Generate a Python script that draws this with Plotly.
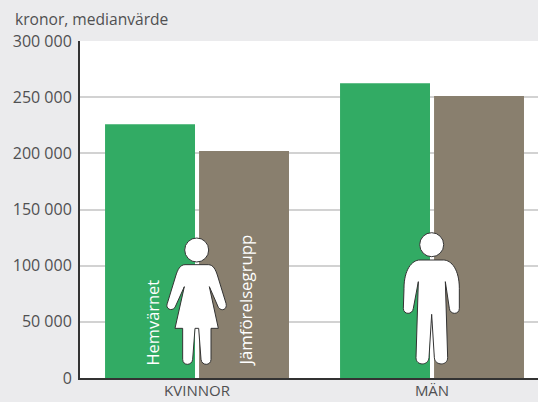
import plotly.graph_objects as go

categories = ["KVINNOR", "MÄN"]
hemvarnet = [226000, 262500]
jamforelsegrupp = [202000, 251000]
tick_values = [0, 50000, 100000, 150000, 200000, 250000, 300000]
tick_labels = ["0", "50 000", "100 000", "150 000", "200 000", "250 000", "300 000"]

W, H = 538, 402
L, R, T, B = 80, 0, 41, 24
PW, PH = W - L - R, H - T - B
TXT = "#505052"
FONT = "Open Sans, Noto Sans, sans-serif"

def px(x): return (x - L) / PW
def py(y): return (H - B - y) / PH

def icon_path(cmds, ox, oy):
    out = []
    for c in cmds:
        op, pts = c[0], c[1:]
        coords = []
        for i in range(0, len(pts), 2):
            coords.append(f"{ox + pts[i] / 3 - L:.2f},{(H - B) - (oy + pts[i + 1] / 3):.2f}")
        out.append(op + " ".join(coords))
    return " ".join(out) + " Z"

woman = [
    ("M", 255, 134), ("L", 325, 134), ("C", 340, 134, 347, 150, 352, 165),
    ("L", 378, 250), ("C", 383, 268, 365, 276, 355, 262), ("L", 328, 200),
    ("L", 355, 325), ("L", 333, 325), ("L", 333, 418), ("C", 333, 438, 305, 438, 303, 418),
    ("L", 296, 325), ("L", 285, 325), ("L", 278, 418), ("C", 276, 438, 248, 438, 248, 418),
    ("L", 248, 325), ("L", 225, 325), ("L", 253, 200), ("L", 225, 262),
    ("C", 215, 276, 195, 266, 202, 250), ("L", 228, 165), ("C", 233, 150, 240, 134, 255, 134),
]
man = [
    ("M", 240, 120), ("L", 310, 120), ("C", 335, 120, 358, 150, 358, 205),
    ("L", 358, 265), ("C", 358, 285, 330, 285, 328, 265), ("L", 316, 185),
    ("L", 323, 413), ("C", 323, 438, 285, 438, 283, 413), ("L", 275, 283),
    ("L", 267, 413), ("C", 265, 438, 228, 438, 228, 413), ("L", 235, 185),
    ("L", 220, 265), ("C", 218, 285, 190, 285, 190, 265), ("L", 192, 205),
    ("C", 192, 150, 215, 120, 240, 120),
]

def pix_shape(**kw):
    return dict(xref="paper", yref="paper", xsizemode="pixel", ysizemode="pixel",
                xanchor=0, yanchor=0, fillcolor="white",
                line=dict(color="#333333", width=1), layer="above", **kw)

def head(cx, cy, r=12):
    return pix_shape(type="circle", x0=cx - r - L, x1=cx + r - L,
                     y0=(H - B) - (cy + r), y1=(H - B) - (cy - r))

shapes = [
    head(196.7, 250), pix_shape(type="path", path=icon_path(woman, 100, 220)),
    head(431.7, 244.7), pix_shape(type="path", path=icon_path(man, 340, 220)),
]

fig = go.Figure()
fig.add_bar(x=categories, y=hemvarnet, name="Hemvärnet", marker=dict(color="#32AB64", line_width=0))
fig.add_bar(x=categories, y=jamforelsegrupp, name="Jämförelsegrupp", marker=dict(color="#897F6E", line_width=0))

fig.update_layout(
    width=W, height=H, autosize=False,
    margin=dict(l=L, r=R, t=T, b=B, pad=0),
    paper_bgcolor="#EBEBED", plot_bgcolor="white",
    barmode="group", bargap=0.2, bargroupgap=0.043, showlegend=False,
    font=dict(family=FONT, color=TXT, size=16),
    shapes=shapes,
    annotations=[
        dict(text="kronor, medianvärde", xref="paper", yref="paper", x=px(13), y=py(19),
             xanchor="left", yanchor="middle", showarrow=False, font=dict(size=15.6, color=TXT)),
        dict(text="Hemvärnet", xref="paper", yref="paper", x=px(152), y=py(322.5), textangle=-90,
             xanchor="center", yanchor="middle", showarrow=False, font=dict(size=16.4, color="white")),
        dict(text="Jämförelsegrupp", xref="paper", yref="paper", x=px(245), y=py(300.5), textangle=-90,
             xanchor="center", yanchor="middle", showarrow=False, font=dict(size=16.8, color="white")),
    ],
)
fig.update_xaxes(type="category", range=[-0.498, 1.451], showgrid=False, ticks="", automargin=False,
                 showline=True, linecolor="#333333", linewidth=2, ticklabelstandoff=-2,
                 tickfont=dict(size=15, color=TXT))
fig.update_yaxes(range=[0, 300000], tickvals=tick_values, ticktext=tick_labels, ticks="", automargin=False,
                 showgrid=True, gridcolor="#D2D2D2", gridwidth=1.5, zeroline=False,
                 showline=True, linecolor="#333333", linewidth=2, ticklabelstandoff=3,
                 tickfont=dict(size=16, color=TXT))

fig.write_html("out.html", config={"displayModeBar": False},
               post_script="document.body.style.margin='0';document.documentElement.style.overflow='hidden';")
